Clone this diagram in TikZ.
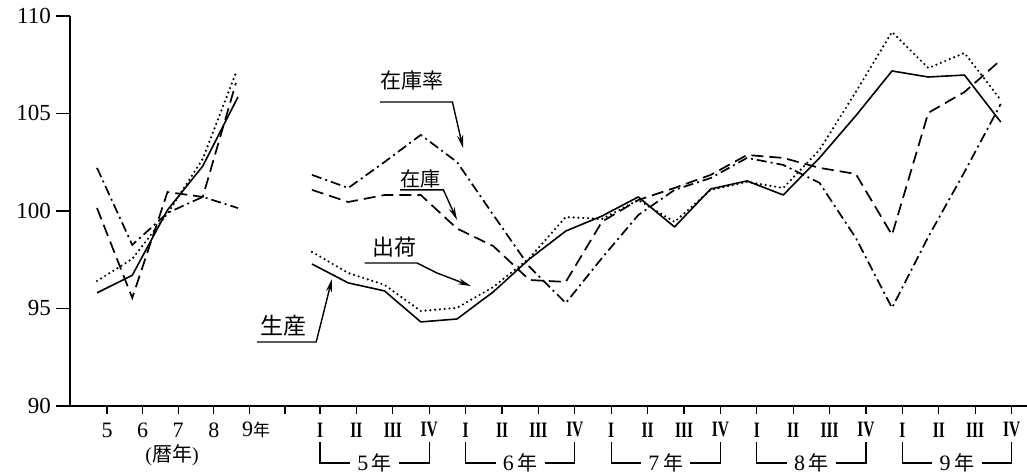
\documentclass[tikz,border=0pt]{standalone}
\usepackage{fontspec}
\setmainfont{Liberation Serif}
\newfontfamily\jpfont{Noto Sans CJK JP}
\usepackage{tikz}
\usetikzlibrary{arrows.meta}

\tikzset{
  seisan/.style={line width=1.6pt, line join=round},
  shukka/.style={line width=2.4pt, line cap=round, dash pattern=on 0pt off 4.8pt},
  zaiko/.style={line width=1.7pt, dash pattern=on 12pt off 6pt},
  zritsu/.style={line width=1.7pt, dash pattern=on 10pt off 4pt on 2pt off 4pt},
  lbl/.style={font=\jpfont\fontsize{21}{21}\selectfont, inner xsep=0pt},
  rom/.style={font=\fontsize{22}{22}\selectfont\bfseries, inner sep=0pt},
  ptr/.style={line width=1.4pt, ->, >={Stealth[length=13pt,width=6pt]}},
}

\begin{document}
\begin{tikzpicture}[x=1pt, y=19.5pt, font=\fontsize{22}{22}\selectfont]
\useasboundingbox (0,86.51) rectangle (1027,110.82);

% axes
\draw[line width=1.5pt] (70,110) -- (70,90);
\draw[line width=1.5pt] (57,90) -- (1027,90);
\foreach \v in {90,95,...,110} {
  \draw[line width=1.3pt] (56,\v) -- (70,\v);
  \node[anchor=east, inner sep=0pt, font=\fontsize{23}{23}\selectfont] (y\v) at (51,\v) {\v};
}

% calendar years
\foreach \k in {0,...,5}
  \draw[line width=1.3pt] ({107+35.6*\k},90) -- ++(0,-0.41);
\foreach \yr [count=\k from 0] in {5,6,7,8}
  \node[inner sep=0pt] (a\yr) at ({107+35.6*\k},88.77) {\yr};
\node[anchor=west, inner sep=0pt] (a9) at (242,88.77) {9{\jpfont\fontsize{17}{17}\selectfont 年}};
\node[inner sep=0pt, font=\fontsize{20}{20}\selectfont] (reki) at (172,87.49) {({\jpfont 暦年})};

% quarters
\foreach \i in {0,...,19}
  \draw[line width=1.3pt] ({320+36.4*\i},90) -- ++(0,-0.41);
\foreach \yr [count=\k from 0] in {5,...,9} {
  \foreach \q [count=\j from 0] in {I,II,III,IV}
    \node[rom] (q\yr\j) at ({320+36.4*(4*\k+\j)},88.77) {\scalebox{.7}[1]{\q}};
  \node[inner xsep=7pt, inner ysep=0pt] (n\yr) at ({320+145.6*\k+54.6},87.08) {\yr\,{\jpfont\fontsize{20}{20}\selectfont 年}};
  \draw[line width=1.3pt] ({320+145.6*\k},88.15) |- (n\yr.west);
  \draw[line width=1.3pt] (n\yr.east) -| ({320+145.6*\k+109.2},88.15);
}

% annual data
\begin{scope}[xshift=97pt, x=35.25pt]
  \draw[seisan] plot coordinates {(0,95.80) (1,96.70) (2,100.05) (3,102.30) (4,105.85)};
  \draw[shukka] plot coordinates {(0,96.41) (1,97.54) (2,99.87) (3,102.67) (3.94,107.08)};
  \draw[zaiko] plot coordinates {(0,100.15) (1,95.54) (2,100.97) (3,100.72) (3.94,106.56)};
  \draw[zritsu] plot coordinates {(0,102.21) (1,98.26) (2,99.90) (3,100.72) (4,100.15)};
\end{scope}

% quarterly data
\begin{scope}[xshift=312pt, x=36.25pt]
  \draw[seisan] plot coordinates {(0,97.28) (1,96.31) (2,95.90) (3,94.31) (4,94.46)
    (5,95.85) (6,97.54) (7,98.97) (8,99.74) (9,100.72) (10,99.18) (11,101.13)
    (12,101.54) (13,100.82) (14,102.72) (15,104.88) (16,107.18) (17,106.87)
    (18,106.97) (19,104.56)};
  \draw[shukka] plot coordinates {(0,97.90) (1,96.82) (2,96.21) (3,94.87) (4,95.03)
    (5,96.10) (6,97.59) (7,99.69) (8,99.59) (9,100.56) (10,99.44) (11,101.08)
    (12,101.49) (13,101.18) (14,103.13) (15,106.10) (16,109.18) (17,107.33)
    (18,108.10) (19,105.69)};
  \draw[zaiko] plot coordinates {(0,101.08) (1,100.46) (2,100.82) (3,100.82) (4,99.10)
    (5,98.20) (6,96.46) (7,96.36) (8,99.45) (9,100.56) (10,101.18) (11,101.85)
    (12,102.87) (13,102.72) (14,102.21) (15,101.90) (16,98.77) (17,105.03)
    (18,106.10) (19,107.74)};
  \draw[zritsu] plot coordinates {(0,101.85) (1,101.18) (2,102.51) (3,103.90) (4,102.51)
    (5,99.80) (6,97.13) (7,95.28) (8,97.59) (9,99.79) (10,101.08) (11,101.69)
    (12,102.72) (13,102.36) (14,101.44) (15,98.62) (16,95.03) (17,98.67)
    (18,102.00) (19,105.49)};
\end{scope}

% labels
\node[lbl, inner ysep=12pt, anchor=south west] (lzairitsu) at (380,105.59) {在庫率};
\coordinate (tzairitsu) at (463,103.23);
\draw[ptr] (lzairitsu.south west) -- ([xshift=9pt]lzairitsu.south east) -- (tzairitsu);

\node[lbl, font=\jpfont\fontsize{20}{20}\selectfont, inner ysep=2pt, anchor=south west] (lzaiko) at (400,101.08) {在庫};
\coordinate (tzaiko) at (457,99.54);
\draw[ptr] (lzaiko.south west) -- ([xshift=3pt]lzaiko.south east) -- (tzaiko);

\node[lbl, font=\jpfont\fontsize{22}{22}\selectfont, inner ysep=6pt, anchor=south east] (lshukka) at (417,97.33) {出荷};
\coordinate (bshukka) at (437,96.82);
\coordinate (tshukka) at (471,96.15);
\draw[ptr] ([xshift=-8pt]lshukka.south west) -- (lshukka.south east) -- (bshukka) -- (tshukka);

\node[lbl, font=\jpfont\fontsize{23}{23}\selectfont, inner ysep=5pt, anchor=south] (lseisan) at (283,93.28) {生産};
\coordinate (tseisan) at (332,96.51);
\draw[ptr] ([xshift=-3pt]lseisan.south west) -- ([xshift=10pt]lseisan.south east) -- (tseisan);
\end{tikzpicture}
\end{document}
